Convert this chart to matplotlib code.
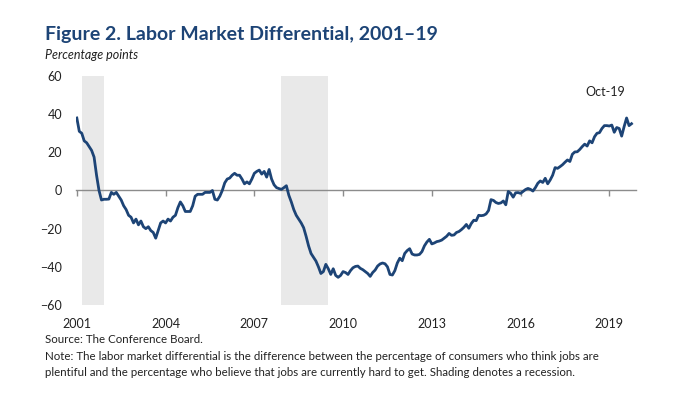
import numpy as np
import matplotlib.pyplot as plt

# --- data (monthly, Jan 2001 - Oct 2019) ---
start_year = 2001
differential = [
    # 2001
    38, 31, 30, 26, 25, 23, 21, 17.5, 8, 0, -5, -4.6,
    # 2002
    -4.6, -4.5, -1, -2, -1, -3, -5, -8, -10, -13, -14, -17,
    # 2003
    -15, -18, -16, -19, -20, -19, -21, -22, -25, -21, -17, -16,
    # 2004
    -17, -15, -16, -14, -13, -9, -6, -8, -11, -11, -11, -8,
    # 2005
    -3, -2, -2, -2, -1, -1, -1, 0, -4.6, -5, -3, 0,
    # 2006
    4, 6, 6.5, 8, 9, 8, 8, 6, 3.5, 4.5, 3.5, 6,
    # 2007
    9, 10, 10.7, 8.6, 10, 7, 11, 6, 3, 1.5, 1, 0.6,
    # 2008
    1.5, 2.5, -2.5, -6, -10, -13, -15, -17, -19.5, -24, -29, -33,
    # 2009
    -35, -37, -40, -43.5, -42.5, -38.7, -41, -44, -41, -44.5, -45.5, -44.5,
    # 2010
    -42.5, -43, -44, -42, -40.5, -39.8, -39.6, -40.8, -41.5, -42.5, -43.5, -45,
    # 2011
    -43, -41.7, -39.6, -38.5, -38, -38.4, -40, -44, -44.3, -42, -38, -35.5,
    # 2012
    -36.8, -33, -31.5, -30.5, -33.3, -33.8, -33.8, -33.5, -32, -29, -27, -25.6,
    # 2013
    -28, -27.5, -26.8, -26.5, -26, -25, -24, -22.5, -23.5, -23.3, -22, -21.5,
    # 2014
    -20.5, -19.3, -17.8, -19.8, -17.3, -15.6, -15.8, -13, -13.2, -13, -12.3, -10.5,
    # 2015
    -4.8, -5.2, -6.3, -6.8, -6.5, -5.5, -7.5, -0.5, -1.5, -3.5, -1.2, -1.1,
    # 2016
    -1.5, -0.5, 0.5, 1.1, 0.6, -0.3, 1.5, 3.8, 5, 4.2, 6.4, 3.5,
    # 2017
    5.5, 8, 12, 11.6, 12.5, 13.5, 14.8, 16, 15.2, 19, 20.2, 20.3,
    # 2018
    21.5, 23, 24.3, 23.3, 26, 25, 28.2, 30, 30.3, 32.5, 34, 34,
    # 2019
    33.8, 34.3, 30.5, 33, 32.5, 28.5, 33.5, 38, 34, 35,
]
# recessions as (start, end) in decimal years
recessions = [(2001 + 2 / 12, 2001 + 11 / 12), (2007 + 11 / 12, 2009 + 6 / 12)]
year_ticks = [2001, 2004, 2007, 2010, 2013, 2016, 2019]
y_ticks = [-60, -40, -20, 0, 20, 40, 60]

t = start_year + np.arange(len(differential)) / 12

# --- colours / fonts ---
navy = "#1d4476"
plt.rcParams["font.family"] = ["Lato", "DejaVu Sans"]

fig = plt.figure(figsize=(6.78, 4.08), dpi=100)
ax = fig.add_axes([0.112, 0.2525, 0.826, 0.5612])

for r0, r1 in recessions:
    ax.axvspan(r0, r1, color="#e9e9e9", lw=0, zorder=0)

ax.plot(t, differential, color=navy, lw=2.0, zorder=3, solid_joinstyle="round")

ax.set_xlim(2001 - 0.03, t[-1] + 0.15)
ax.set_ylim(-60, 60)

# zero line works as the x axis, labels go at the bottom
for side in ["left", "right", "top"]:
    ax.spines[side].set_visible(False)
ax.spines["bottom"].set_position(("data", 0))
ax.spines["bottom"].set_color("#8c8c8c")
ax.spines["bottom"].set_linewidth(1.0)
ax.set_xticks(year_ticks)
ax.tick_params(axis="x", direction="out", length=4, width=1, color="#8c8c8c", labelbottom=False)
for yr in year_ticks:
    ax.text(yr, -0.085, str(yr), transform=ax.get_xaxis_transform(),
            ha="center", va="center", fontsize=9, color="#222222")

ax.set_yticks(y_ticks)
ax.tick_params(axis="y", length=0, pad=10, labelsize=9, labelcolor="#222222")

ax.text(t[-1] - 0.2, 0.93, "Oct-19", transform=ax.get_xaxis_transform(),
        ha="right", va="center", fontsize=9, color="#222222")

# --- titles and notes ---
fig.text(0.066, 0.915, "Figure 2. Labor Market Differential, 2001\u201319",
         fontsize=14, fontweight="bold", color=navy, va="center")
fig.text(0.066, 0.865, "Percentage points", fontsize=9, style="italic",
         color="#222222", va="center")
fig.text(0.066, 0.167, "Source: The Conference Board.", fontsize=8.3,
         color="#222222", va="center")
fig.text(0.066, 0.127,
         "Note: The labor market differential is the difference between the percentage of consumers who think jobs are",
         fontsize=8.3, color="#222222", va="center")
fig.text(0.066, 0.088,
         "plentiful and the percentage who believe that jobs are currently hard to get. Shading denotes a recession.",
         fontsize=8.3, color="#222222", va="center")

fig.savefig("out.png", dpi=100)
